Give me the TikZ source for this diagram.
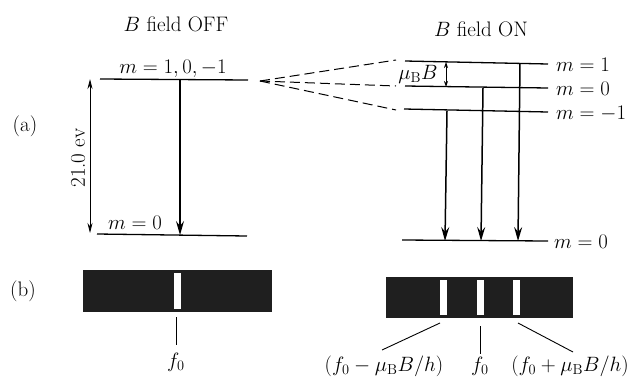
\documentclass[tikz,border=0pt]{standalone}
\usetikzlibrary{arrows.meta}
\begin{document}
\begin{tikzpicture}[x=1pt,y=-1pt,
  every node/.style={font=\fontsize{21}{24}\selectfont, inner sep=0pt},
  level/.style={line width=1.3pt},
  trans/.style={line width=1.5pt,-{Stealth[length=14pt,width=8pt,inset=5pt]}},
  fanline/.style={line width=1pt,dash pattern=on 10pt off 5pt},
  bar/.style={fill=black!88,draw=none},
  slit/.style={fill=white,draw=none},
  tick/.style={line width=0.9pt}]
\useasboundingbox (0,0) rectangle (629,381);
% titles
\node (toff) at (176,24) {$B$ field OFF};
\node (ton) at (481,29) {$B$ field ON};
\node (la) at (25,126) {(a)};
\node (lb) at (23,291) {(b)};
% left levels
\coordinate (L1a) at (100,79); \coordinate (L1b) at (248,80);
\coordinate (L0a) at (97,234); \coordinate (L0b) at (247,236);
\draw[level] (L1a) -- (L1b);
\draw[level] (L0a) -- (L0b);
\node[anchor=base] (lm1) at (173,73) {$m=1,0,-1$};
\node[anchor=base] (lm0) at (135,229) {$m=0$};
% energy arrow
\coordinate (Ea) at (90,79); \coordinate (Eb) at (90,233);
\draw[line width=0.9pt,{Stealth[length=10pt,width=5pt]}-{Stealth[length=10pt,width=5pt]}] (Ea) -- (Eb);
\node[rotate=90] (ev) at (78,158) {21.0 ev};
% left transition
\coordinate (LTa) at (180,80); \coordinate (LTb) at (180,235);
\draw[trans] (LTa) -- (LTb);
% fan of dashed lines
\coordinate (fan) at (260,81);
\coordinate (R1a) at (405,61); \coordinate (R1b) at (548,64);
\coordinate (R0a) at (405,86); \coordinate (R0b) at (548,88);
\coordinate (Rma) at (404,109); \coordinate (Rmb) at (548,112);
\coordinate (Ga) at (402,240); \coordinate (Gb) at (548,241);
\draw[fanline] (fan) -- (396,60);
\draw[fanline] (fan) -- (396,86);
\draw[fanline] (fan) -- (396,110);
% right levels
\draw[level] (R1a) -- (R1b);
\draw[level] (R0a) -- (R0b);
\draw[level] (Rma) -- (Rmb);
\draw[level] (Ga) -- (Gb);
\node[anchor=base west] (rm1) at (556,71) {$m=1$};
\node[anchor=base west] (rm0) at (556,95) {$m=0$};
\node[anchor=base west] (rmm) at (556,119) {$m=-1$};
\node[anchor=base west] (rg) at (554,248) {$m=0$};
% muB B
\node (mub) at (418,74) {$\mu_{\mathrm{B}}B$};
\coordinate (dA) at (446,62); \coordinate (dB) at (446,87);
\draw[line width=0.8pt,{Stealth[length=6pt,width=4pt]}-{Stealth[length=6pt,width=4pt]}] (dA) -- (dB);
% right transitions
\coordinate (T1a) at (520,63); \coordinate (T1b) at (518,241);
\coordinate (T0a) at (483,88); \coordinate (T0b) at (481,241);
\coordinate (Tma) at (447,111); \coordinate (Tmb) at (445,241);
\draw[trans] (T1a) -- (T1b);
\draw[trans] (T0a) -- (T0b);
\draw[trans] (Tma) -- (Tmb);
% left spectrum
\node[bar, minimum width=189pt, minimum height=42pt] (spL) at (177.5,291) {};
\node[slit, minimum width=7pt, minimum height=36pt] (sL) at (177,291) {};
\coordinate (fLa) at (176,317); \coordinate (fLb) at (176,345);
\draw[tick] (fLa) -- (fLb);
\node (fL) at (176,362) {$f_0$};
% right spectrum
\node[bar, minimum width=187pt, minimum height=41pt] (spR) at (479.5,297.5) {};
\node[slit, minimum width=7pt, minimum height=35pt] (s1) at (443.5,297.5) {};
\node[slit, minimum width=7pt, minimum height=35pt] (s2) at (480.5,297.5) {};
\node[slit, minimum width=7pt, minimum height=35pt] (s3) at (516.5,297.5) {};
\coordinate (c1a) at (440,323); \coordinate (c1b) at (382,350);
\coordinate (c2a) at (480,326); \coordinate (c2b) at (480,354);
\coordinate (c3a) at (518,323); \coordinate (c3b) at (573,352);
\draw[tick] (c1a) -- (c1b);
\draw[tick] (c2a) -- (c2b);
\draw[tick] (c3a) -- (c3b);
\node (fm) at (384,366) {$(f_0-\mu_{\mathrm{B}}B/h)$};
\node (f0R) at (480,366) {$f_0$};
\node (fp) at (570,366) {$(f_0+\mu_{\mathrm{B}}B/h)$};
\end{tikzpicture}
\end{document}
